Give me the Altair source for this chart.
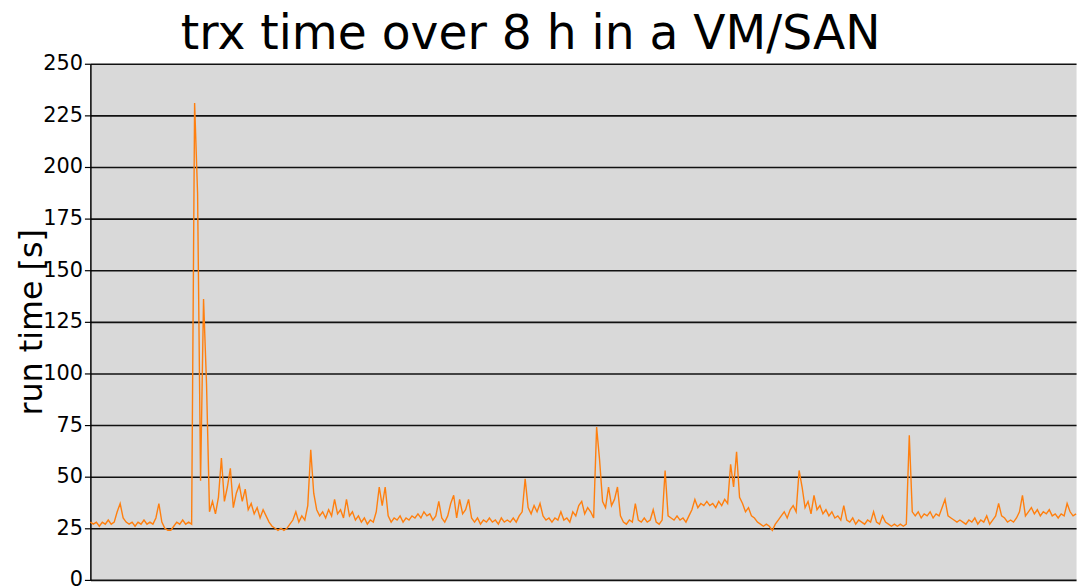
import altair as alt
import pandas as pd

# run time in seconds, sampled evenly over the 8 h window
run_time = [
    28, 27, 28, 26, 28, 27, 29, 27, 28, 33,
    37, 30, 28, 27, 28, 26, 28, 27, 29, 27,
    28, 27, 30, 37, 28, 25, 24, 24, 26, 28,
    27, 29, 27, 28, 27, 231, 187, 48, 136, 95,
    33, 38, 32, 40, 59, 38, 45, 54, 35, 42,
    46, 38, 44, 34, 37, 32, 35, 30, 34, 31,
    28, 26, 25, 24, 25, 24, 25, 27, 29, 33,
    28, 31, 29, 36, 63, 42, 34, 31, 33, 30,
    34, 31, 39, 32, 34, 30, 39, 31, 33, 29,
    31, 28, 30, 27, 29, 28, 33, 45, 36, 45,
    31, 28, 30, 29, 31, 28, 30, 29, 31, 30,
    32, 30, 33, 31, 32, 29, 31, 38, 30, 28,
    31, 37, 41, 30, 39, 32, 34, 39, 30, 28,
    30, 27, 29, 28, 30, 28, 29, 27, 30, 28,
    29, 28, 30, 28, 31, 33, 49, 35, 32, 36,
    33, 37, 31, 29, 30, 28, 30, 29, 33, 29,
    30, 28, 33, 31, 36, 38, 32, 35, 33, 30,
    74, 58, 38, 35, 45, 36, 39, 45, 31, 28,
    27, 29, 28, 37, 29, 28, 30, 28, 29, 34,
    28, 27, 29, 53, 31, 30, 29, 31, 29, 30,
    28, 31, 34, 39, 35, 37, 36, 38, 36, 37,
    35, 38, 36, 39, 37, 56, 45, 62, 40, 37,
    33, 35, 31, 30, 28, 27, 26, 27, 26, 24,
    27, 29, 31, 33, 30, 34, 36, 33, 53, 45,
    35, 38, 32, 41, 34, 36, 32, 34, 31, 33,
    30, 31, 29, 36, 29, 28, 30, 27, 29, 28,
    27, 29, 28, 33, 28, 27, 31, 28, 27, 26,
    27, 26, 27, 26, 27, 70, 33, 31, 33, 30,
    32, 31, 33, 30, 32, 31, 35, 39, 31, 30,
    29, 28, 29, 28, 27, 29, 28, 30, 27, 29,
    28, 31, 27, 29, 31, 37, 31, 30, 28, 29,
    28, 30, 33, 41, 31, 33, 35, 32, 34, 31,
    33, 32, 34, 31, 32, 30, 32, 31, 37, 33,
    31, 32,
]
total_hours = 8
y_ticks = [0, 25, 50, 75, 100, 125, 150, 175, 200, 225, 250]

step = total_hours / (len(run_time) - 1)
df = pd.DataFrame({
    "hours": [i * step for i in range(len(run_time))],
    "run_time": run_time,
})

chart = alt.Chart(df).mark_line(color="#ff7f0e", strokeWidth=1.4).encode(
    x=alt.X("hours:Q", axis=None,
            scale=alt.Scale(domain=[0, total_hours], nice=False, zero=False)),
    y=alt.Y("run_time:Q",
            scale=alt.Scale(domain=[0, 250], nice=False),
            axis=alt.Axis(values=y_ticks, title="run time [s]",
                          titleFont="DejaVu Sans", titleFontSize=32,
                          titleFontWeight="normal", titleColor="black",
                          titleX=-59, titleY=260, titleAngle=270,
                          titleBaseline="middle", titleAlign="center",
                          labelFont="DejaVu Sans", labelFontSize=21,
                          labelColor="black", labelPadding=2,
                          tickColor="black", tickSize=6, tickWidth=1.2,
                          domainColor="black", domainWidth=1.5,
                          grid=True, gridColor="#111111", gridWidth=1.6)),
).properties(
    width=993,
    height=520,
    title=alt.TitleParams("trx time over 8 h in a VM/SAN", font="DejaVu Sans",
                          fontSize=47.5, fontWeight="normal", color="black",
                          anchor="middle", frame="group", dx=-53, offset=-6),
    autosize=alt.AutoSizeParams(type="none"),
    padding={"left": 83, "top": 54, "right": 7, "bottom": 10},
    background="white",
).configure_view(fill="#d9d9d9", stroke="transparent")

chart.save("out.html", embed_options={"renderer": "svg", "actions": False})
